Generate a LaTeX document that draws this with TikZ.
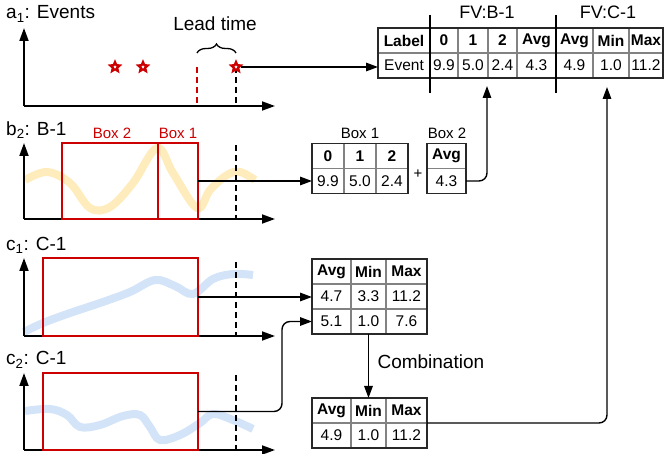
\documentclass[tikz,border=0pt]{standalone}
\usepackage{fontspec}
\setmainfont{Liberation Sans}
\usetikzlibrary{arrows.meta,shapes.geometric,decorations.pathreplacing,fit,calc}
\definecolor{boxred}{RGB}{204,0,0}
\definecolor{gridgray}{RGB}{130,130,130}
\definecolor{tabdark}{RGB}{40,40,40}
\definecolor{waveyellow}{RGB}{255,233,178}
\definecolor{waveblue}{RGB}{212,228,248}
\newcommand\tabfont{\fontsize{15.5}{18}\selectfont}
\newcommand\lblfont{\fontsize{19}{22}\selectfont}
\begin{document}
\begin{tikzpicture}[x=1pt,y=-1pt,
  axis/.style={line width=1.8pt,-{Triangle[length=13pt,width=9pt]}},
  conn/.style={line width=1.4pt,-{Triangle[length=12pt,width=8.5pt]}},
  redbox/.style={draw=boxred,line width=1.5pt,inner sep=0,outer sep=0},
  cutline/.style={line width=1.3pt,dash pattern=on 6pt off 4pt},
  cell/.style={draw=gridgray,line width=1.2pt,minimum height=25pt,inner sep=0,outer sep=0,font=\tabfont},
  hcell/.style={cell,font=\tabfont\bfseries},
  tabframe/.style={draw=tabdark,line width=1.8pt,inner sep=0,outer sep=0},
  evstar/.style={star,star points=5,star point ratio=2.2,draw=boxred,fill=white,line width=2.2pt,minimum size=10pt,inner sep=0},
  wavey/.style={waveyellow,line width=8pt,opacity=0.85},
  waveb/.style={waveblue,line width=8pt},
  plabel/.style={anchor=west,font=\lblfont,inner sep=0},
  boxlabel/.style={font=\fontsize{15}{18}\selectfont,inner sep=0},
]
\useasboundingbox (0,0) rectangle (665,454);

% ---------- waves (behind) ----------
\draw[wavey] plot[smooth,tension=0.6] coordinates {(25,180) (47,172) (70,183) (90,208) (110,207) (133,183) (157,148) (173,173) (197,208) (210,190) (227,175) (240,172) (255,180)};
\draw[waveb] plot[smooth,tension=0.6] coordinates {(24,332) (43,323) (70,313) (100,303) (130,292) (155,280) (175,286) (193,294) (213,279) (233,274) (253,275)};
\draw[waveb] plot[smooth,tension=0.6] coordinates {(25,411) (50,409) (67,415) (80,427) (100,425) (123,416) (140,415) (150,427) (160,440) (180,435) (200,423) (213,414) (233,420) (253,429)};

% ---------- panel a ----------
\node[plabel] (la) at (6,14) {a\textsubscript{1}: Events};
\draw[axis] (24,106) -- (24,28);
\draw[axis] (24,106) -- (275,106);
\node[evstar] (s1) at (115,67) {};
\node[evstar] (s2) at (143,67) {};
\draw[cutline,boxred] (197,67) -- (197,106);
\draw[cutline] (236,67) -- (236,106);
\node[evstar] (s3) at (236,67) {};
\draw[line width=1.3pt,decorate,decoration={brace,amplitude=9pt}] (197,53) -- (236,53);
\node[font=\lblfont] (lead) at (215,24) {Lead time};

% ---------- panel b ----------
\node[plabel] (lb) at (6,130) {b\textsubscript{2}: B-1};
\draw[axis] (24,219) -- (24,143);
\draw[axis] (24,219) -- (275,219);
\node[redbox,minimum width=96pt,minimum height=76pt] (bx2) at (110,181) {};
\node[redbox,minimum width=40pt,minimum height=76pt] (bx1) at (178,181) {};
\node[boxlabel,text=boxred] (bx2l) at (112,133) {Box 2};
\node[boxlabel,text=boxred] (bx1l) at (178,133) {Box 1};
\draw[cutline] (236,145) -- (236,219);

% ---------- panel c1 ----------
\node[plabel] (lc1) at (6,245) {c\textsubscript{1}: C-1};
\draw[axis] (24,336) -- (24,258);
\draw[axis] (24,336) -- (275,336);
\node[redbox,minimum width=155pt,minimum height=78pt] (c1box) at (120.5,297) {};
\draw[cutline] (236,262) -- (236,336);

% ---------- panel c2 ----------
\node[plabel] (lc2) at (6,360) {c\textsubscript{2}: C-1};
\draw[axis] (24,450) -- (24,373);
\draw[axis] (24,450) -- (275,450);
\node[redbox,minimum width=155pt,minimum height=77pt] (c2box) at (120.5,411.5) {};
\draw[cutline] (236,375) -- (236,450);

% ---------- top table ----------
\node[hcell,minimum width=52pt] (tLab) at (404,40.5) {Label};
\node[hcell,minimum width=28pt] (t0) at (444,40.5) {0};
\node[hcell,minimum width=30pt] (t1) at (473,40.5) {1};
\node[hcell,minimum width=29pt] (t2) at (502.5,40.5) {2};
\node[hcell,minimum width=39pt] (tAvgB) at (536.5,40.5) {Avg};
\node[hcell,minimum width=37pt] (tAvgC) at (574.5,40.5) {Avg};
\node[hcell,minimum width=36pt] (tMin) at (611,40.5) {Min};
\node[hcell,minimum width=34pt] (tMax) at (646,40.5) {Max};
\node[cell,minimum width=52pt] (tEv) at (404,65.5) {Event};
\node[cell,minimum width=28pt] (v0) at (444,65.5) {9.9};
\node[cell,minimum width=30pt] (v1) at (473,65.5) {5.0};
\node[cell,minimum width=29pt] (v2) at (502.5,65.5) {2.4};
\node[cell,minimum width=39pt] (vAvgB) at (536.5,65.5) {4.3};
\node[cell,minimum width=37pt] (vAvgC) at (574.5,65.5) {4.9};
\node[cell,minimum width=36pt] (vMin) at (611,65.5) {1.0};
\node[cell,minimum width=34pt] (vMax) at (646,65.5) {11.2};
\node[tabframe,fit=(tLab)(vMax)] (T1) {};
\draw[line width=1.8pt] (430,15) -- (430,93);
\draw[line width=1.8pt] (556,15) -- (556,93);
\node[font=\fontsize{18}{21}\selectfont] (fvb) at (487,12) {FV:B-1};
\node[font=\fontsize{18}{21}\selectfont] (fvc) at (608,12) {FV:C-1};
\coordinate (fvBin) at (487,86);
\coordinate (fvCin) at (607,87);

% ---------- Box tables ----------
\node[hcell,minimum width=32pt] (b0) at (328,156) {0};
\node[hcell,minimum width=32pt] (b1) at (360,156) {1};
\node[hcell,minimum width=32pt] (b2) at (392,156) {2};
\node[cell,minimum width=32pt] (bv0) at (328,181) {9.9};
\node[cell,minimum width=32pt] (bv1) at (360,181) {5.0};
\node[cell,minimum width=32pt] (bv2) at (392,181) {2.4};
\node[tabframe,fit=(b0)(bv2)] (B1) {};
\node[hcell,minimum width=39pt] (bAvg) at (446.5,156) {Avg};
\node[cell,minimum width=39pt] (bvAvg) at (446.5,181) {4.3};
\node[tabframe,fit=(bAvg)(bvAvg)] (B2) {};
\node[boxlabel] (b1l) at (360,133) {Box 1};
\node[boxlabel] (b2l) at (447,133) {Box 2};
\node[boxlabel] (plus) at (418,174) {+};

% ---------- C table ----------
\node[hcell,minimum width=39pt] (cA0) at (331.5,271.5) {Avg};
\node[hcell,minimum width=35pt] (cMi0) at (368.5,271.5) {Min};
\node[hcell,minimum width=41pt] (cMa0) at (406.5,271.5) {Max};
\node[cell,minimum width=39pt] (cA1) at (331.5,296.5) {4.7};
\node[cell,minimum width=35pt] (cMi1) at (368.5,296.5) {3.3};
\node[cell,minimum width=41pt] (cMa1) at (406.5,296.5) {11.2};
\node[cell,minimum width=39pt] (cA2) at (331.5,321.5) {5.1};
\node[cell,minimum width=35pt] (cMi2) at (368.5,321.5) {1.0};
\node[cell,minimum width=41pt] (cMa2) at (406.5,321.5) {7.6};
\node[tabframe,fit=(cA0)(cMa2)] (C) {};

% ---------- D table ----------
\node[hcell,minimum width=39pt] (dA0) at (331.5,410.5) {Avg};
\node[hcell,minimum width=35pt] (dMi0) at (368.5,410.5) {Min};
\node[hcell,minimum width=41pt] (dMa0) at (406.5,410.5) {Max};
\node[cell,minimum width=39pt] (dA1) at (331.5,435.5) {4.9};
\node[cell,minimum width=35pt] (dMi1) at (368.5,435.5) {1.0};
\node[cell,minimum width=41pt] (dMa1) at (406.5,435.5) {11.2};
\node[tabframe,fit=(dA0)(dMa1)] (D) {};
\node[font=\lblfont,anchor=west] (comb) at (374,362) {Combination};

% ---------- connectors ----------
\draw[conn] (s3) -- (s3 -| tEv.west);
\draw[conn] (bx1.east) -- (bx1.east -| bv0.west);
\draw[conn,rounded corners=8pt] (bvAvg.east) -| (fvBin);
\draw[conn] (c1box.east) -- (c1box.east -| cA1.west);
\coordinate (c2bend) at (282,380);
\draw[conn,rounded corners=8pt] (c2box.east) -- (c2box.east -| c2bend) -- (c2bend |- cA2.west) -- (cA2.west);
\draw[conn] (C.south -| cMi2.south) -- (dMi0.north);
\draw[conn,rounded corners=8pt] (D.east) -| (fvCin);
\end{tikzpicture}
\end{document}
